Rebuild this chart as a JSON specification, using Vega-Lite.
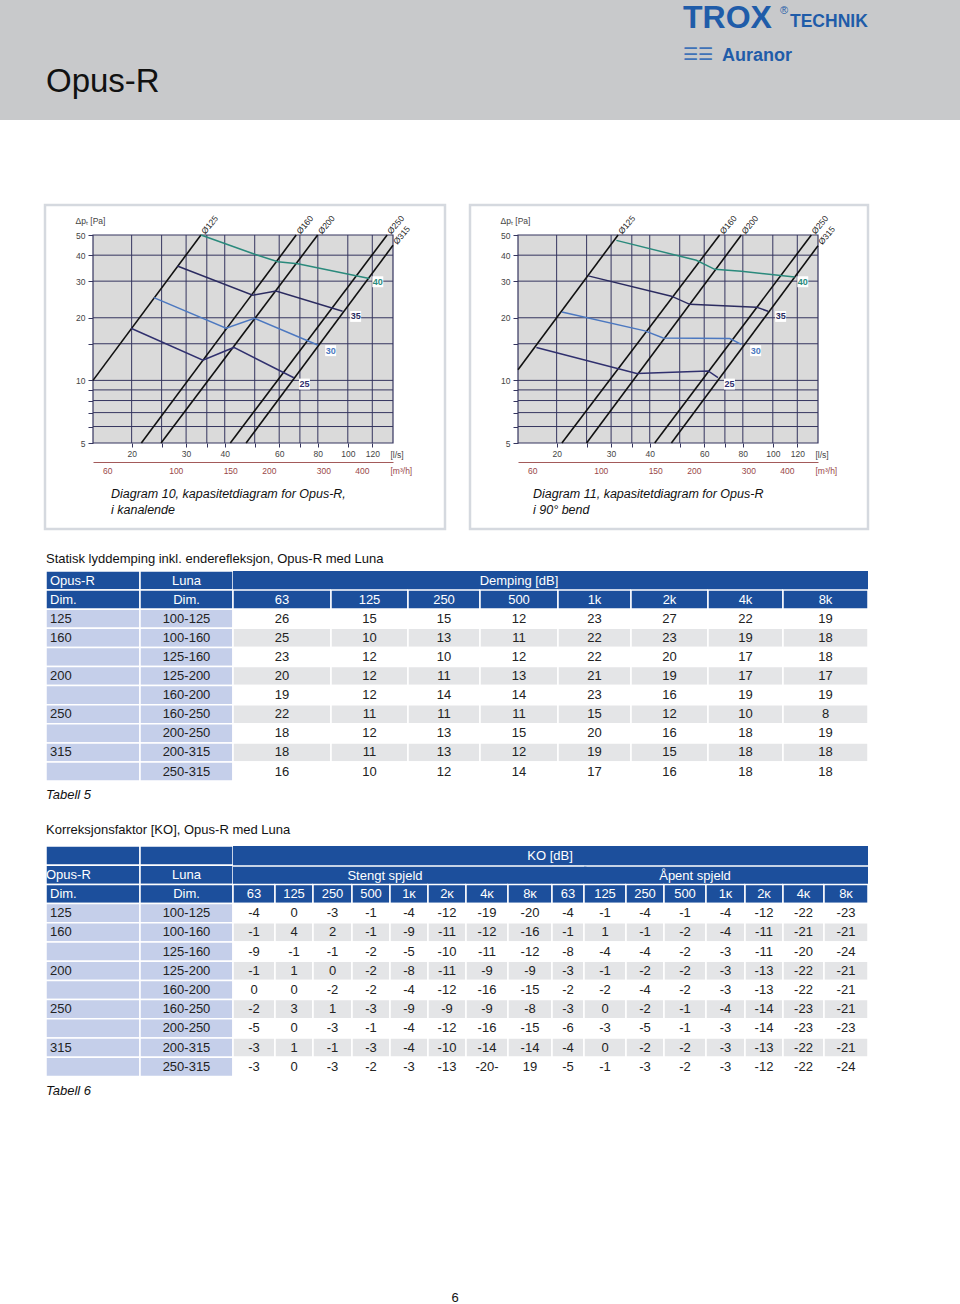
{
"$schema":"https://vega.github.io/schema/vega-lite/v6.json",
"padding":0,
"background":"#ffffff",
"spacing":0,
"config":{"view":{"stroke":null},"font":"Liberation Sans","concat":{"spacing":0}},
"datasets":{
"t5":[
{"opus":"125","luna":"100-125","63":26,"125":15,"250":15,"500":12,"1k":23,"2k":27,"4k":22,"8k":19},
{"opus":"160","luna":"100-160","63":25,"125":10,"250":13,"500":11,"1k":22,"2k":23,"4k":19,"8k":18},
{"opus":"","luna":"125-160","63":23,"125":12,"250":10,"500":12,"1k":22,"2k":20,"4k":17,"8k":18},
{"opus":"200","luna":"125-200","63":20,"125":12,"250":11,"500":13,"1k":21,"2k":19,"4k":17,"8k":17},
{"opus":"","luna":"160-200","63":19,"125":12,"250":14,"500":14,"1k":23,"2k":16,"4k":19,"8k":19},
{"opus":"250","luna":"160-250","63":22,"125":11,"250":11,"500":11,"1k":15,"2k":12,"4k":10,"8k":8},
{"opus":"","luna":"200-250","63":18,"125":12,"250":13,"500":15,"1k":20,"2k":16,"4k":18,"8k":19},
{"opus":"315","luna":"200-315","63":18,"125":11,"250":13,"500":12,"1k":19,"2k":15,"4k":18,"8k":18},
{"opus":"","luna":"250-315","63":16,"125":10,"250":12,"500":14,"1k":17,"2k":16,"4k":18,"8k":18}
],
"t6":[
{"opus":"125","luna":"100-125","s63":-4,"s125":0,"s250":-3,"s500":-1,"s1k":-4,"s2k":-12,"s4k":-19,"s8k":-20,"a63":-4,"a125":-1,"a250":-4,"a500":-1,"a1k":-4,"a2k":-12,"a4k":-22,"a8k":-23},
{"opus":"160","luna":"100-160","s63":-1,"s125":4,"s250":2,"s500":-1,"s1k":-9,"s2k":-11,"s4k":-12,"s8k":-16,"a63":-1,"a125":1,"a250":-1,"a500":-2,"a1k":-4,"a2k":-11,"a4k":-21,"a8k":-21},
{"opus":"","luna":"125-160","s63":-9,"s125":-1,"s250":-1,"s500":-2,"s1k":-5,"s2k":-10,"s4k":-11,"s8k":-12,"a63":-8,"a125":-4,"a250":-4,"a500":-2,"a1k":-3,"a2k":-11,"a4k":-20,"a8k":-24},
{"opus":"200","luna":"125-200","s63":-1,"s125":1,"s250":0,"s500":-2,"s1k":-8,"s2k":-11,"s4k":-9,"s8k":-9,"a63":-3,"a125":-1,"a250":-2,"a500":-2,"a1k":-3,"a2k":-13,"a4k":-22,"a8k":-21},
{"opus":"","luna":"160-200","s63":0,"s125":0,"s250":-2,"s500":-2,"s1k":-4,"s2k":-12,"s4k":-16,"s8k":-15,"a63":-2,"a125":-2,"a250":-4,"a500":-2,"a1k":-3,"a2k":-13,"a4k":-22,"a8k":-21},
{"opus":"250","luna":"160-250","s63":-2,"s125":3,"s250":1,"s500":-3,"s1k":-9,"s2k":-9,"s4k":-9,"s8k":-8,"a63":-3,"a125":0,"a250":-2,"a500":-1,"a1k":-4,"a2k":-14,"a4k":-23,"a8k":-21},
{"opus":"","luna":"200-250","s63":-5,"s125":0,"s250":-3,"s500":-1,"s1k":-4,"s2k":-12,"s4k":-16,"s8k":-15,"a63":-6,"a125":-3,"a250":-5,"a500":-1,"a1k":-3,"a2k":-14,"a4k":-23,"a8k":-23},
{"opus":"315","luna":"200-315","s63":-3,"s125":1,"s250":-1,"s500":-3,"s1k":-4,"s2k":-10,"s4k":-14,"s8k":-14,"a63":-4,"a125":0,"a250":-2,"a500":-2,"a1k":-3,"a2k":-13,"a4k":-22,"a8k":-21},
{"opus":"","luna":"250-315","s63":-3,"s125":0,"s250":-3,"s500":-2,"s1k":-3,"s2k":-13,"s4k":"-20-","s8k":19,"a63":-5,"a125":-1,"a250":-3,"a500":-2,"a1k":-3,"a2k":-12,"a4k":-22,"a8k":-24}
],
"dims1":[{"dim":"Ø125","q":15,"p":10},{"dim":"Ø125","q":33.5,"p":50},{"dim":"Ø160","q":21.5,"p":5},{"dim":"Ø160","q":68.1,"p":50},{"dim":"Ø200","q":24.9,"p":5},{"dim":"Ø200","q":79.9,"p":50},{"dim":"Ø250","q":41.7,"p":5},{"dim":"Ø250","q":134,"p":50},{"dim":"Ø315","q":46.9,"p":5},{"dim":"Ø315","q":140,"p":44.6}],
"dims2":[{"dim":"Ø125","q":15,"p":11.25},{"dim":"Ø125","q":31.6,"p":50},{"dim":"Ø160","q":20.8,"p":5},{"dim":"Ø160","q":67.3,"p":50},{"dim":"Ø200","q":25,"p":5},{"dim":"Ø200","q":79.1,"p":50},{"dim":"Ø250","q":41.5,"p":5},{"dim":"Ø250","q":133.2,"p":50},{"dim":"Ø315","q":47,"p":5},{"dim":"Ø315","q":140,"p":44.4}],
"curves1":[{"level":"40","q":33.5,"p":50},{"level":"40","q":50,"p":40.4},{"level":"40","q":59.4,"p":37.2},{"level":"40","q":68.9,"p":36.4},{"level":"40","q":117.4,"p":30.9},
{"level":"35","q":28.1,"p":35.5},{"level":"35","q":49.3,"p":25.7},{"level":"35","q":58.6,"p":26.9},{"level":"35","q":96.2,"p":21.5},
{"level":"30","q":23.6,"p":25},{"level":"30","q":40.4,"p":17.8},{"level":"30","q":49.9,"p":19.9},{"level":"30","q":79.9,"p":14.8},
{"level":"25","q":19.9,"p":17.8},{"level":"25","q":34,"p":12.5},{"level":"25","q":42.8,"p":14.4},{"level":"25","q":66.9,"p":10.3}],
"curves2":[{"level":"40","q":31.2,"p":47.1},{"level":"40","q":56.6,"p":37.8},{"level":"40","q":64.9,"p":34.2},{"level":"40","q":79.1,"p":33.5},{"level":"40","q":117.6,"p":31.4},
{"level":"35","q":25.3,"p":31.8},{"level":"35","q":47,"p":25.4},{"level":"35","q":53.9,"p":23.2},{"level":"35","q":88.5,"p":22.5},{"level":"35","q":96.5,"p":21.5},
{"level":"30","q":20.8,"p":21.3},{"level":"30","q":38.6,"p":17.3},{"level":"30","q":44.2,"p":16},{"level":"30","q":72.6,"p":15.9},{"level":"30","q":79.1,"p":14.9},
{"level":"25","q":17.2,"p":14.4},{"level":"25","q":36.3,"p":10.8},{"level":"25","q":61.8,"p":11.1},{"level":"25","q":66.5,"p":10.3}],
"levels":[{"level":"40","q":125,"p":29.8},{"level":"35","q":106,"p":20.3},{"level":"30","q":88,"p":13.9},{"level":"25","q":72.4,"p":9.6}],
"gx":[{"q":20},{"q":25},{"q":30},{"q":35},{"q":40},{"q":50},{"q":60},{"q":70},{"q":80},{"q":100},{"q":120}],
"gy":[{"p":6},{"p":7},{"p":8},{"p":9},{"p":10},{"p":15},{"p":20},{"p":30},{"p":40}]
},
"vconcat":[
{"width":960,"height":120,"view":{"fill":"#c8c9cb","stroke":null},"data":{"values":[{}]},
 "layer":[
  {"mark":{"type":"text","text":"Opus-R","align":"left","baseline":"alphabetic","dx":-434,"dy":32,"fontSize":33,"color":"#111111"}},
  {"mark":{"type":"text","text":"TROX","align":"left","baseline":"alphabetic","dx":203,"dy":-32,"fontSize":32,"fontWeight":"bold","color":"#1f5ca9"}},
  {"mark":{"type":"text","text":"®","align":"left","baseline":"alphabetic","dx":300,"dy":-46,"fontSize":11,"color":"#1f5ca9"}},
  {"mark":{"type":"text","text":"TECHNIK","align":"left","baseline":"alphabetic","dx":310,"dy":-33,"fontSize":17.5,"fontWeight":"bold","color":"#1f5ca9"}},
  {"mark":{"type":"text","text":"☰☰","align":"left","baseline":"alphabetic","dx":203,"dy":0,"fontSize":17,"color":"#3f72b8"}},
  {"mark":{"type":"text","text":"Auranor","align":"left","baseline":"alphabetic","dx":242,"dy":1,"fontSize":18,"fontWeight":"bold","color":"#1f5ca9"}}
 ]},
{"width":10,"height":82.75,"data":{"values":[{}]},"mark":{"type":"text","text":""}},
{"hconcat":[
 {"width":45,"height":324,"data":{"values":[{}]},"mark":{"type":"text","text":""}},
 {"width":400,"height":324,
  "view":{"stroke":"#d5d9df","strokeWidth":2.5,"fill":"#ffffff"},
  "title":{"text":["Diagram 10, kapasitetdiagram for Opus-R,","i kanalende"],"orient":"bottom","frame":"group","anchor":"start","align":"left","baseline":"top","offset":-41,"dx":66,"fontSize":12.5,"fontStyle":"italic","fontWeight":"normal","lineHeight":16,"color":"#111111"},
  "resolve":{"scale":{"x":"independent"},"axis":{"x":"independent"}},
  "layer":[
   {"layer":[
    {"data":{"values":[{}]},"mark":{"type":"rect","fill":"#dadada","stroke":"#35355f","strokeWidth":1.2},"encoding":{
     "x":{"datum":15,"type":"quantitative","scale":{"type":"log","domain":[15,140],"range":[48,348],"nice":false}},
     "x2":{"datum":140},
     "y":{"datum":5,"type":"quantitative","scale":{"type":"log","domain":[5,50],"range":[238,30],"nice":false}},
     "y2":{"datum":50}}},
    {"data":{"name":"gx"},"mark":{"type":"rule","color":"#35355f","strokeWidth":1},"encoding":{"x":{"field":"q","type":"quantitative","scale":{"type":"log","domain":[15,140],"range":[48,348],"nice":false},"axis":{"orient":"bottom","offset":-86,"values":[20,25,30,35,40,50,60,70,80,100,120],"labelExpr":"indexof([20,30,40,60,80,100,120], datum.value) >= 0 ? format(datum.value, 'd') : ''","labelOverlap":false,"domain":false,"grid":false,"ticks":true,"tickSize":4,"tickColor":"#35355f","labelPadding":2,"labelFontSize":8.5,"labelColor":"#444444","title":"[l/s]","titleX":345,"titleY":11,"titleAlign":"left","titleBaseline":"middle","titleFontSize":8.5,"titleFontWeight":"normal","titleColor":"#444444"}},"y":{"datum":5,"type":"quantitative","scale":{"type":"log","domain":[5,50],"range":[238,30],"nice":false}},"y2":{"datum":50}}},
    {"data":{"name":"gy"},"mark":{"type":"rule","color":"#35355f","strokeWidth":1},"encoding":{"y":{"field":"p","type":"quantitative","scale":{"type":"log","domain":[5,50],"range":[238,30],"nice":false},"axis":{"orient":"left","offset":-48,"values":[5,6,7,8,9,10,15,20,30,40,50],"labelExpr":"indexof([5,10,20,30,40,50], datum.value) >= 0 ? format(datum.value, 'd') : ''","labelOverlap":false,"domain":false,"grid":false,"tickSize":5,"tickColor":"#35355f","labelPadding":3,"labelFontSize":8.5,"labelColor":"#444444","title":"Δpₜ [Pa]","titleAngle":0,"titleX":-18,"titleY":15,"titleAlign":"left","titleBaseline":"middle","titleFontSize":8.5,"titleFontWeight":"normal","titleColor":"#444444"}},"x":{"datum":15,"type":"quantitative","scale":{"type":"log","domain":[15,140],"range":[48,348],"nice":false}},"x2":{"datum":140}}},
    {"data":{"name":"dims1"},"mark":{"type":"line","color":"#111111","strokeWidth":1.6},"encoding":{"x":{"field":"q","type":"quantitative","scale":{"type":"log","domain":[15,140],"range":[48,348],"nice":false}},"y":{"field":"p","type":"quantitative","scale":{"type":"log","domain":[5,50],"range":[238,30],"nice":false}},"detail":{"field":"dim","type":"nominal"}}},
    {"data":{"name":"curves1"},"mark":{"type":"line","strokeWidth":1.5},"encoding":{"x":{"field":"q","type":"quantitative","scale":{"type":"log","domain":[15,140],"range":[48,348],"nice":false}},"y":{"field":"p","type":"quantitative","scale":{"type":"log","domain":[5,50],"range":[238,30],"nice":false}},"color":{"field":"level","type":"nominal","scale":{"domain":["25","30","35","40"],"range":["#30306e","#4c78c0","#2b2b60","#2a8a7c"]},"legend":null}}},
    {"data":{"name":"levels"},"mark":{"type":"point","shape":"square","filled":true,"color":"#ffffff","opacity":1,"size":120},"encoding":{"x":{"field":"q","type":"quantitative","scale":{"type":"log","domain":[15,140],"range":[48,348],"nice":false}},"y":{"field":"p","type":"quantitative","scale":{"type":"log","domain":[5,50],"range":[238,30],"nice":false}}}},
    {"data":{"name":"levels"},"mark":{"type":"text","fontSize":9,"fontWeight":"bold"},"encoding":{"x":{"field":"q","type":"quantitative","scale":{"type":"log","domain":[15,140],"range":[48,348],"nice":false}},"y":{"field":"p","type":"quantitative","scale":{"type":"log","domain":[5,50],"range":[238,30],"nice":false}},"text":{"field":"level","type":"nominal"},"color":{"field":"level","type":"nominal","scale":{"domain":["25","30","35","40"],"range":["#30306e","#4c78c0","#2b2b60","#2a8a7c"]},"legend":null}}},
    {"data":{"name":"dims1"},"transform":[{"filter":"datum.p > 40"}],"mark":{"type":"text","angle":-50,"align":"left","baseline":"middle","dx":3,"fontSize":8.5,"color":"#222222"},"encoding":{"x":{"field":"q","type":"quantitative","scale":{"type":"log","domain":[15,140],"range":[48,348],"nice":false}},"y":{"field":"p","type":"quantitative","scale":{"type":"log","domain":[5,50],"range":[238,30],"nice":false}},"text":{"field":"dim","type":"nominal"}}}
   ]},
   {"data":{"values":[{"m":60},{"m":400}]},"mark":{"type":"point","opacity":0},"encoding":{"x":{"field":"m","type":"quantitative","scale":{"type":"log","domain":[54,504],"range":[48,348],"nice":false},"axis":{"orient":"bottom","offset":-67,"values":[60,100,150,200,300,400],"labelExpr":"format(datum.value, 'd')","labelOverlap":false,"domain":true,"domainColor":"#a35a5a","domainWidth":1,"ticks":false,"grid":false,"labelPadding":4,"labelFontSize":8.5,"labelColor":"#9a4848","title":"[m³/h]","titleX":345,"titleY":8,"titleAlign":"left","titleBaseline":"middle","titleFontSize":8.5,"titleFontWeight":"normal","titleColor":"#9a4848"}}}}
  ]},
 {"width":25,"height":324,"data":{"values":[{}]},"mark":{"type":"text","text":""}},
 {"width":398,"height":324,
  "view":{"stroke":"#d5d9df","strokeWidth":2.5,"fill":"#ffffff"},
  "title":{"text":["Diagram 11, kapasitetdiagram for Opus-R","i 90° bend"],"orient":"bottom","frame":"group","anchor":"start","align":"left","baseline":"top","offset":-41,"dx":63,"fontSize":12.5,"fontStyle":"italic","fontWeight":"normal","lineHeight":16,"color":"#111111"},
  "resolve":{"scale":{"x":"independent"},"axis":{"x":"independent"}},
  "layer":[
   {"layer":[
    {"data":{"values":[{}]},"mark":{"type":"rect","fill":"#dadada","stroke":"#35355f","strokeWidth":1.2},"encoding":{
     "x":{"datum":15,"type":"quantitative","scale":{"type":"log","domain":[15,140],"range":[48,348],"nice":false}},
     "x2":{"datum":140},
     "y":{"datum":5,"type":"quantitative","scale":{"type":"log","domain":[5,50],"range":[238,30],"nice":false}},
     "y2":{"datum":50}}},
    {"data":{"name":"gx"},"mark":{"type":"rule","color":"#35355f","strokeWidth":1},"encoding":{"x":{"field":"q","type":"quantitative","scale":{"type":"log","domain":[15,140],"range":[48,348],"nice":false},"axis":{"orient":"bottom","offset":-86,"values":[20,25,30,35,40,50,60,70,80,100,120],"labelExpr":"indexof([20,30,40,60,80,100,120], datum.value) >= 0 ? format(datum.value, 'd') : ''","labelOverlap":false,"domain":false,"grid":false,"ticks":true,"tickSize":4,"tickColor":"#35355f","labelPadding":2,"labelFontSize":8.5,"labelColor":"#444444","title":"[l/s]","titleX":345,"titleY":11,"titleAlign":"left","titleBaseline":"middle","titleFontSize":8.5,"titleFontWeight":"normal","titleColor":"#444444"}},"y":{"datum":5,"type":"quantitative","scale":{"type":"log","domain":[5,50],"range":[238,30],"nice":false}},"y2":{"datum":50}}},
    {"data":{"name":"gy"},"mark":{"type":"rule","color":"#35355f","strokeWidth":1},"encoding":{"y":{"field":"p","type":"quantitative","scale":{"type":"log","domain":[5,50],"range":[238,30],"nice":false},"axis":{"orient":"left","offset":-48,"values":[5,6,7,8,9,10,15,20,30,40,50],"labelExpr":"indexof([5,10,20,30,40,50], datum.value) >= 0 ? format(datum.value, 'd') : ''","labelOverlap":false,"domain":false,"grid":false,"tickSize":5,"tickColor":"#35355f","labelPadding":3,"labelFontSize":8.5,"labelColor":"#444444","title":"Δpₜ [Pa]","titleAngle":0,"titleX":-18,"titleY":15,"titleAlign":"left","titleBaseline":"middle","titleFontSize":8.5,"titleFontWeight":"normal","titleColor":"#444444"}},"x":{"datum":15,"type":"quantitative","scale":{"type":"log","domain":[15,140],"range":[48,348],"nice":false}},"x2":{"datum":140}}},
    {"data":{"name":"dims2"},"mark":{"type":"line","color":"#111111","strokeWidth":1.6},"encoding":{"x":{"field":"q","type":"quantitative","scale":{"type":"log","domain":[15,140],"range":[48,348],"nice":false}},"y":{"field":"p","type":"quantitative","scale":{"type":"log","domain":[5,50],"range":[238,30],"nice":false}},"detail":{"field":"dim","type":"nominal"}}},
    {"data":{"name":"curves2"},"mark":{"type":"line","strokeWidth":1.5},"encoding":{"x":{"field":"q","type":"quantitative","scale":{"type":"log","domain":[15,140],"range":[48,348],"nice":false}},"y":{"field":"p","type":"quantitative","scale":{"type":"log","domain":[5,50],"range":[238,30],"nice":false}},"color":{"field":"level","type":"nominal","scale":{"domain":["25","30","35","40"],"range":["#30306e","#4c78c0","#2b2b60","#2a8a7c"]},"legend":null}}},
    {"data":{"name":"levels"},"mark":{"type":"point","shape":"square","filled":true,"color":"#ffffff","opacity":1,"size":120},"encoding":{"x":{"field":"q","type":"quantitative","scale":{"type":"log","domain":[15,140],"range":[48,348],"nice":false}},"y":{"field":"p","type":"quantitative","scale":{"type":"log","domain":[5,50],"range":[238,30],"nice":false}}}},
    {"data":{"name":"levels"},"mark":{"type":"text","fontSize":9,"fontWeight":"bold"},"encoding":{"x":{"field":"q","type":"quantitative","scale":{"type":"log","domain":[15,140],"range":[48,348],"nice":false}},"y":{"field":"p","type":"quantitative","scale":{"type":"log","domain":[5,50],"range":[238,30],"nice":false}},"text":{"field":"level","type":"nominal"},"color":{"field":"level","type":"nominal","scale":{"domain":["25","30","35","40"],"range":["#30306e","#4c78c0","#2b2b60","#2a8a7c"]},"legend":null}}},
    {"data":{"name":"dims2"},"transform":[{"filter":"datum.p > 40"}],"mark":{"type":"text","angle":-50,"align":"left","baseline":"middle","dx":3,"fontSize":8.5,"color":"#222222"},"encoding":{"x":{"field":"q","type":"quantitative","scale":{"type":"log","domain":[15,140],"range":[48,348],"nice":false}},"y":{"field":"p","type":"quantitative","scale":{"type":"log","domain":[5,50],"range":[238,30],"nice":false}},"text":{"field":"dim","type":"nominal"}}}
   ]},
   {"data":{"values":[{"m":60},{"m":400}]},"mark":{"type":"point","opacity":0},"encoding":{"x":{"field":"m","type":"quantitative","scale":{"type":"log","domain":[54,504],"range":[48,348],"nice":false},"axis":{"orient":"bottom","offset":-67,"values":[60,100,150,200,300,400],"labelExpr":"format(datum.value, 'd')","labelOverlap":false,"domain":true,"domainColor":"#a35a5a","domainWidth":1,"ticks":false,"grid":false,"labelPadding":4,"labelFontSize":8.5,"labelColor":"#9a4848","title":"[m³/h]","titleX":345,"titleY":8,"titleAlign":"left","titleBaseline":"middle","titleFontSize":8.5,"titleFontWeight":"normal","titleColor":"#9a4848"}}}}
  ]}
],"spacing":0,"bounds":"flush"},
{"width":960,"height":38.25,"data":{"values":[{}]},"mark":{"type":"text","text":"Statisk lyddemping inkl. enderefleksjon, Opus-R med Luna","align":"left","dx":-434,"dy":9.15,"fontSize":13,"color":"#111111"}},
{"hconcat":[
 {"width":46,"height":210.1,"data":{"values":[{}]},"mark":{"type":"text","text":""}},
 {"width":94,"height":210.1,"layer":[
  {"data":{"values":[{"row":"h1","label":"Opus-R"},{"row":"h2","label":"Dim."}]},"layer":[
   {"mark":{"type":"rect","fill":"#1c4f9c","stroke":"#ffffff","strokeWidth":1.5},"encoding":{"y":{"field":"row","type":"nominal","scale":{"type":"band","domain":["h1","h2","100-125","100-160","125-160","125-200","160-200","160-250","200-250","200-315","250-315"],"paddingInner":0,"paddingOuter":0},"axis":null}}},
   {"mark":{"type":"text","align":"left","dx":-43,"fontSize":13,"color":"#ffffff"},"encoding":{"y":{"field":"row","type":"nominal","scale":{"type":"band","domain":["h1","h2","100-125","100-160","125-160","125-200","160-200","160-250","200-250","200-315","250-315"],"paddingInner":0,"paddingOuter":0},"axis":null},"text":{"field":"label","type":"nominal"}}}]},
  {"data":{"name":"t5"},"layer":[
   {"mark":{"type":"rect","fill":"#c5cfea","stroke":"#ffffff","strokeWidth":1.5},"encoding":{"y":{"field":"luna","type":"nominal","scale":{"type":"band","domain":["h1","h2","100-125","100-160","125-160","125-200","160-200","160-250","200-250","200-315","250-315"],"paddingInner":0,"paddingOuter":0},"axis":null}}},
   {"mark":{"type":"text","align":"left","dx":-43,"fontSize":13,"color":"#222222"},"encoding":{"y":{"field":"luna","type":"nominal","scale":{"type":"band","domain":["h1","h2","100-125","100-160","125-160","125-200","160-200","160-250","200-250","200-315","250-315"],"paddingInner":0,"paddingOuter":0},"axis":null},"text":{"field":"opus","type":"nominal"}}}]}
 ]},
 {"width":93,"height":210.1,"layer":[
  {"data":{"values":[{"row":"h1","label":"Luna"},{"row":"h2","label":"Dim."}]},"layer":[
   {"mark":{"type":"rect","fill":"#1c4f9c","stroke":"#ffffff","strokeWidth":1.5},"encoding":{"y":{"field":"row","type":"nominal","scale":{"type":"band","domain":["h1","h2","100-125","100-160","125-160","125-200","160-200","160-250","200-250","200-315","250-315"],"paddingInner":0,"paddingOuter":0},"axis":null}}},
   {"mark":{"type":"text","fontSize":13,"color":"#ffffff"},"encoding":{"y":{"field":"row","type":"nominal","scale":{"type":"band","domain":["h1","h2","100-125","100-160","125-160","125-200","160-200","160-250","200-250","200-315","250-315"],"paddingInner":0,"paddingOuter":0},"axis":null},"text":{"field":"label","type":"nominal"}}}]},
  {"data":{"name":"t5"},"layer":[
   {"mark":{"type":"rect","fill":"#c5cfea","stroke":"#ffffff","strokeWidth":1.5},"encoding":{"y":{"field":"luna","type":"nominal","scale":{"type":"band","domain":["h1","h2","100-125","100-160","125-160","125-200","160-200","160-250","200-250","200-315","250-315"],"paddingInner":0,"paddingOuter":0},"axis":null}}},
   {"mark":{"type":"text","fontSize":13,"color":"#222222"},"encoding":{"y":{"field":"luna","type":"nominal","scale":{"type":"band","domain":["h1","h2","100-125","100-160","125-160","125-200","160-200","160-250","200-250","200-315","250-315"],"paddingInner":0,"paddingOuter":0},"axis":null},"text":{"field":"luna","type":"nominal"}}}]}
 ]},
 {"width":98,"height":210.1,"layer":[
  {"data":{"values":[{"row":"h1"}]},"mark":{"type":"rect","fill":"#1c4f9c"},"encoding":{"y":{"field":"row","type":"nominal","scale":{"type":"band","domain":["h1","h2","100-125","100-160","125-160","125-200","160-200","160-250","200-250","200-315","250-315"],"paddingInner":0,"paddingOuter":0},"axis":null}}},
  {"data":{"values":[{"row":"h2","label":"63"}]},"layer":[
   {"mark":{"type":"rect","fill":"#1c4f9c","stroke":"#ffffff","strokeWidth":1.5},"encoding":{"y":{"field":"row","type":"nominal","scale":{"type":"band","domain":["h1","h2","100-125","100-160","125-160","125-200","160-200","160-250","200-250","200-315","250-315"],"paddingInner":0,"paddingOuter":0},"axis":null}}},
   {"mark":{"type":"text","fontSize":13,"color":"#ffffff"},"encoding":{"y":{"field":"row","type":"nominal","scale":{"type":"band","domain":["h1","h2","100-125","100-160","125-160","125-200","160-200","160-250","200-250","200-315","250-315"],"paddingInner":0,"paddingOuter":0},"axis":null},"text":{"field":"label","type":"nominal"}}}]},
  {"data":{"name":"t5"},"transform":[{"window":[{"op":"row_number","as":"rn"}]}],"layer":[
   {"mark":{"type":"rect","stroke":"#ffffff","strokeWidth":1.5},"encoding":{"y":{"field":"luna","type":"nominal","scale":{"type":"band","domain":["h1","h2","100-125","100-160","125-160","125-200","160-200","160-250","200-250","200-315","250-315"],"paddingInner":0,"paddingOuter":0},"axis":null},"fill":{"condition":{"test":"datum.rn % 2 == 0","value":"#e4e5e7"},"value":"#ffffff"}}},
   {"mark":{"type":"text","fontSize":13,"color":"#222222"},"encoding":{"y":{"field":"luna","type":"nominal","scale":{"type":"band","domain":["h1","h2","100-125","100-160","125-160","125-200","160-200","160-250","200-250","200-315","250-315"],"paddingInner":0,"paddingOuter":0},"axis":null},"text":{"field":"63","type":"nominal"}}}]}
 ]},
 {"width":77,"height":210.1,"layer":[
  {"data":{"values":[{"row":"h1"}]},"mark":{"type":"rect","fill":"#1c4f9c"},"encoding":{"y":{"field":"row","type":"nominal","scale":{"type":"band","domain":["h1","h2","100-125","100-160","125-160","125-200","160-200","160-250","200-250","200-315","250-315"],"paddingInner":0,"paddingOuter":0},"axis":null}}},
  {"data":{"values":[{"row":"h2","label":"125"}]},"layer":[
   {"mark":{"type":"rect","fill":"#1c4f9c","stroke":"#ffffff","strokeWidth":1.5},"encoding":{"y":{"field":"row","type":"nominal","scale":{"type":"band","domain":["h1","h2","100-125","100-160","125-160","125-200","160-200","160-250","200-250","200-315","250-315"],"paddingInner":0,"paddingOuter":0},"axis":null}}},
   {"mark":{"type":"text","fontSize":13,"color":"#ffffff"},"encoding":{"y":{"field":"row","type":"nominal","scale":{"type":"band","domain":["h1","h2","100-125","100-160","125-160","125-200","160-200","160-250","200-250","200-315","250-315"],"paddingInner":0,"paddingOuter":0},"axis":null},"text":{"field":"label","type":"nominal"}}}]},
  {"data":{"name":"t5"},"transform":[{"window":[{"op":"row_number","as":"rn"}]}],"layer":[
   {"mark":{"type":"rect","stroke":"#ffffff","strokeWidth":1.5},"encoding":{"y":{"field":"luna","type":"nominal","scale":{"type":"band","domain":["h1","h2","100-125","100-160","125-160","125-200","160-200","160-250","200-250","200-315","250-315"],"paddingInner":0,"paddingOuter":0},"axis":null},"fill":{"condition":{"test":"datum.rn % 2 == 0","value":"#e4e5e7"},"value":"#ffffff"}}},
   {"mark":{"type":"text","fontSize":13,"color":"#222222"},"encoding":{"y":{"field":"luna","type":"nominal","scale":{"type":"band","domain":["h1","h2","100-125","100-160","125-160","125-200","160-200","160-250","200-250","200-315","250-315"],"paddingInner":0,"paddingOuter":0},"axis":null},"text":{"field":"125","type":"nominal"}}}]}
 ]},
 {"width":72,"height":210.1,"layer":[
  {"data":{"values":[{"row":"h1"}]},"mark":{"type":"rect","fill":"#1c4f9c"},"encoding":{"y":{"field":"row","type":"nominal","scale":{"type":"band","domain":["h1","h2","100-125","100-160","125-160","125-200","160-200","160-250","200-250","200-315","250-315"],"paddingInner":0,"paddingOuter":0},"axis":null}}},
  {"data":{"values":[{"row":"h2","label":"250"}]},"layer":[
   {"mark":{"type":"rect","fill":"#1c4f9c","stroke":"#ffffff","strokeWidth":1.5},"encoding":{"y":{"field":"row","type":"nominal","scale":{"type":"band","domain":["h1","h2","100-125","100-160","125-160","125-200","160-200","160-250","200-250","200-315","250-315"],"paddingInner":0,"paddingOuter":0},"axis":null}}},
   {"mark":{"type":"text","fontSize":13,"color":"#ffffff"},"encoding":{"y":{"field":"row","type":"nominal","scale":{"type":"band","domain":["h1","h2","100-125","100-160","125-160","125-200","160-200","160-250","200-250","200-315","250-315"],"paddingInner":0,"paddingOuter":0},"axis":null},"text":{"field":"label","type":"nominal"}}}]},
  {"data":{"name":"t5"},"transform":[{"window":[{"op":"row_number","as":"rn"}]}],"layer":[
   {"mark":{"type":"rect","stroke":"#ffffff","strokeWidth":1.5},"encoding":{"y":{"field":"luna","type":"nominal","scale":{"type":"band","domain":["h1","h2","100-125","100-160","125-160","125-200","160-200","160-250","200-250","200-315","250-315"],"paddingInner":0,"paddingOuter":0},"axis":null},"fill":{"condition":{"test":"datum.rn % 2 == 0","value":"#e4e5e7"},"value":"#ffffff"}}},
   {"mark":{"type":"text","fontSize":13,"color":"#222222"},"encoding":{"y":{"field":"luna","type":"nominal","scale":{"type":"band","domain":["h1","h2","100-125","100-160","125-160","125-200","160-200","160-250","200-250","200-315","250-315"],"paddingInner":0,"paddingOuter":0},"axis":null},"text":{"field":"250","type":"nominal"}}}]}
 ]},
 {"width":78,"height":210.1,"layer":[
  {"data":{"values":[{"row":"h1"}]},"mark":{"type":"rect","fill":"#1c4f9c"},"encoding":{"y":{"field":"row","type":"nominal","scale":{"type":"band","domain":["h1","h2","100-125","100-160","125-160","125-200","160-200","160-250","200-250","200-315","250-315"],"paddingInner":0,"paddingOuter":0},"axis":null}}},
  {"data":{"values":[{"row":"h2","label":"500"}]},"layer":[
   {"mark":{"type":"rect","fill":"#1c4f9c","stroke":"#ffffff","strokeWidth":1.5},"encoding":{"y":{"field":"row","type":"nominal","scale":{"type":"band","domain":["h1","h2","100-125","100-160","125-160","125-200","160-200","160-250","200-250","200-315","250-315"],"paddingInner":0,"paddingOuter":0},"axis":null}}},
   {"mark":{"type":"text","fontSize":13,"color":"#ffffff"},"encoding":{"y":{"field":"row","type":"nominal","scale":{"type":"band","domain":["h1","h2","100-125","100-160","125-160","125-200","160-200","160-250","200-250","200-315","250-315"],"paddingInner":0,"paddingOuter":0},"axis":null},"text":{"field":"label","type":"nominal"}}}]},
  {"data":{"name":"t5"},"transform":[{"window":[{"op":"row_number","as":"rn"}]}],"layer":[
   {"mark":{"type":"rect","stroke":"#ffffff","strokeWidth":1.5},"encoding":{"y":{"field":"luna","type":"nominal","scale":{"type":"band","domain":["h1","h2","100-125","100-160","125-160","125-200","160-200","160-250","200-250","200-315","250-315"],"paddingInner":0,"paddingOuter":0},"axis":null},"fill":{"condition":{"test":"datum.rn % 2 == 0","value":"#e4e5e7"},"value":"#ffffff"}}},
   {"mark":{"type":"text","fontSize":13,"color":"#222222"},"encoding":{"y":{"field":"luna","type":"nominal","scale":{"type":"band","domain":["h1","h2","100-125","100-160","125-160","125-200","160-200","160-250","200-250","200-315","250-315"],"paddingInner":0,"paddingOuter":0},"axis":null},"text":{"field":"500","type":"nominal"}}}]}
 ]},
 {"width":73,"height":210.1,"layer":[
  {"data":{"values":[{"row":"h1"}]},"mark":{"type":"rect","fill":"#1c4f9c"},"encoding":{"y":{"field":"row","type":"nominal","scale":{"type":"band","domain":["h1","h2","100-125","100-160","125-160","125-200","160-200","160-250","200-250","200-315","250-315"],"paddingInner":0,"paddingOuter":0},"axis":null}}},
  {"data":{"values":[{"row":"h2","label":"1k"}]},"layer":[
   {"mark":{"type":"rect","fill":"#1c4f9c","stroke":"#ffffff","strokeWidth":1.5},"encoding":{"y":{"field":"row","type":"nominal","scale":{"type":"band","domain":["h1","h2","100-125","100-160","125-160","125-200","160-200","160-250","200-250","200-315","250-315"],"paddingInner":0,"paddingOuter":0},"axis":null}}},
   {"mark":{"type":"text","fontSize":13,"color":"#ffffff"},"encoding":{"y":{"field":"row","type":"nominal","scale":{"type":"band","domain":["h1","h2","100-125","100-160","125-160","125-200","160-200","160-250","200-250","200-315","250-315"],"paddingInner":0,"paddingOuter":0},"axis":null},"text":{"field":"label","type":"nominal"}}}]},
  {"data":{"name":"t5"},"transform":[{"window":[{"op":"row_number","as":"rn"}]}],"layer":[
   {"mark":{"type":"rect","stroke":"#ffffff","strokeWidth":1.5},"encoding":{"y":{"field":"luna","type":"nominal","scale":{"type":"band","domain":["h1","h2","100-125","100-160","125-160","125-200","160-200","160-250","200-250","200-315","250-315"],"paddingInner":0,"paddingOuter":0},"axis":null},"fill":{"condition":{"test":"datum.rn % 2 == 0","value":"#e4e5e7"},"value":"#ffffff"}}},
   {"mark":{"type":"text","fontSize":13,"color":"#222222"},"encoding":{"y":{"field":"luna","type":"nominal","scale":{"type":"band","domain":["h1","h2","100-125","100-160","125-160","125-200","160-200","160-250","200-250","200-315","250-315"],"paddingInner":0,"paddingOuter":0},"axis":null},"text":{"field":"1k","type":"nominal"}}}]}
 ]},
 {"width":77,"height":210.1,"layer":[
  {"data":{"values":[{"row":"h1"}]},"mark":{"type":"rect","fill":"#1c4f9c"},"encoding":{"y":{"field":"row","type":"nominal","scale":{"type":"band","domain":["h1","h2","100-125","100-160","125-160","125-200","160-200","160-250","200-250","200-315","250-315"],"paddingInner":0,"paddingOuter":0},"axis":null}}},
  {"data":{"values":[{"row":"h2","label":"2k"}]},"layer":[
   {"mark":{"type":"rect","fill":"#1c4f9c","stroke":"#ffffff","strokeWidth":1.5},"encoding":{"y":{"field":"row","type":"nominal","scale":{"type":"band","domain":["h1","h2","100-125","100-160","125-160","125-200","160-200","160-250","200-250","200-315","250-315"],"paddingInner":0,"paddingOuter":0},"axis":null}}},
   {"mark":{"type":"text","fontSize":13,"color":"#ffffff"},"encoding":{"y":{"field":"row","type":"nominal","scale":{"type":"band","domain":["h1","h2","100-125","100-160","125-160","125-200","160-200","160-250","200-250","200-315","250-315"],"paddingInner":0,"paddingOuter":0},"axis":null},"text":{"field":"label","type":"nominal"}}}]},
  {"data":{"name":"t5"},"transform":[{"window":[{"op":"row_number","as":"rn"}]}],"layer":[
   {"mark":{"type":"rect","stroke":"#ffffff","strokeWidth":1.5},"encoding":{"y":{"field":"luna","type":"nominal","scale":{"type":"band","domain":["h1","h2","100-125","100-160","125-160","125-200","160-200","160-250","200-250","200-315","250-315"],"paddingInner":0,"paddingOuter":0},"axis":null},"fill":{"condition":{"test":"datum.rn % 2 == 0","value":"#e4e5e7"},"value":"#ffffff"}}},
   {"mark":{"type":"text","fontSize":13,"color":"#222222"},"encoding":{"y":{"field":"luna","type":"nominal","scale":{"type":"band","domain":["h1","h2","100-125","100-160","125-160","125-200","160-200","160-250","200-250","200-315","250-315"],"paddingInner":0,"paddingOuter":0},"axis":null},"text":{"field":"2k","type":"nominal"}}}]}
 ]},
 {"width":75,"height":210.1,"layer":[
  {"data":{"values":[{"row":"h1"}]},"mark":{"type":"rect","fill":"#1c4f9c"},"encoding":{"y":{"field":"row","type":"nominal","scale":{"type":"band","domain":["h1","h2","100-125","100-160","125-160","125-200","160-200","160-250","200-250","200-315","250-315"],"paddingInner":0,"paddingOuter":0},"axis":null}}},
  {"data":{"values":[{"row":"h2","label":"4k"}]},"layer":[
   {"mark":{"type":"rect","fill":"#1c4f9c","stroke":"#ffffff","strokeWidth":1.5},"encoding":{"y":{"field":"row","type":"nominal","scale":{"type":"band","domain":["h1","h2","100-125","100-160","125-160","125-200","160-200","160-250","200-250","200-315","250-315"],"paddingInner":0,"paddingOuter":0},"axis":null}}},
   {"mark":{"type":"text","fontSize":13,"color":"#ffffff"},"encoding":{"y":{"field":"row","type":"nominal","scale":{"type":"band","domain":["h1","h2","100-125","100-160","125-160","125-200","160-200","160-250","200-250","200-315","250-315"],"paddingInner":0,"paddingOuter":0},"axis":null},"text":{"field":"label","type":"nominal"}}}]},
  {"data":{"name":"t5"},"transform":[{"window":[{"op":"row_number","as":"rn"}]}],"layer":[
   {"mark":{"type":"rect","stroke":"#ffffff","strokeWidth":1.5},"encoding":{"y":{"field":"luna","type":"nominal","scale":{"type":"band","domain":["h1","h2","100-125","100-160","125-160","125-200","160-200","160-250","200-250","200-315","250-315"],"paddingInner":0,"paddingOuter":0},"axis":null},"fill":{"condition":{"test":"datum.rn % 2 == 0","value":"#e4e5e7"},"value":"#ffffff"}}},
   {"mark":{"type":"text","fontSize":13,"color":"#222222"},"encoding":{"y":{"field":"luna","type":"nominal","scale":{"type":"band","domain":["h1","h2","100-125","100-160","125-160","125-200","160-200","160-250","200-250","200-315","250-315"],"paddingInner":0,"paddingOuter":0},"axis":null},"text":{"field":"4k","type":"nominal"}}}]}
 ]},
 {"width":85,"height":210.1,"layer":[
  {"data":{"values":[{"row":"h1","label":"Demping [dB]"}]},"layer":[
   {"mark":{"type":"rect","fill":"#1c4f9c"},"encoding":{"y":{"field":"row","type":"nominal","scale":{"type":"band","domain":["h1","h2","100-125","100-160","125-160","125-200","160-200","160-250","200-250","200-315","250-315"],"paddingInner":0,"paddingOuter":0},"axis":null}}},
   {"mark":{"type":"text","dx":-306.5,"fontSize":13,"color":"#ffffff"},"encoding":{"y":{"field":"row","type":"nominal","scale":{"type":"band","domain":["h1","h2","100-125","100-160","125-160","125-200","160-200","160-250","200-250","200-315","250-315"],"paddingInner":0,"paddingOuter":0},"axis":null},"text":{"field":"label","type":"nominal"}}}]},
  {"data":{"values":[{"row":"h2","label":"8k"}]},"layer":[
   {"mark":{"type":"rect","fill":"#1c4f9c","stroke":"#ffffff","strokeWidth":1.5},"encoding":{"y":{"field":"row","type":"nominal","scale":{"type":"band","domain":["h1","h2","100-125","100-160","125-160","125-200","160-200","160-250","200-250","200-315","250-315"],"paddingInner":0,"paddingOuter":0},"axis":null}}},
   {"mark":{"type":"text","fontSize":13,"color":"#ffffff"},"encoding":{"y":{"field":"row","type":"nominal","scale":{"type":"band","domain":["h1","h2","100-125","100-160","125-160","125-200","160-200","160-250","200-250","200-315","250-315"],"paddingInner":0,"paddingOuter":0},"axis":null},"text":{"field":"label","type":"nominal"}}}]},
  {"data":{"name":"t5"},"transform":[{"window":[{"op":"row_number","as":"rn"}]}],"layer":[
   {"mark":{"type":"rect","stroke":"#ffffff","strokeWidth":1.5},"encoding":{"y":{"field":"luna","type":"nominal","scale":{"type":"band","domain":["h1","h2","100-125","100-160","125-160","125-200","160-200","160-250","200-250","200-315","250-315"],"paddingInner":0,"paddingOuter":0},"axis":null},"fill":{"condition":{"test":"datum.rn % 2 == 0","value":"#e4e5e7"},"value":"#ffffff"}}},
   {"mark":{"type":"text","fontSize":13,"color":"#222222"},"encoding":{"y":{"field":"luna","type":"nominal","scale":{"type":"band","domain":["h1","h2","100-125","100-160","125-160","125-200","160-200","160-250","200-250","200-315","250-315"],"paddingInner":0,"paddingOuter":0},"axis":null},"text":{"field":"8k","type":"nominal"}}}]}
 ]}
],"spacing":0,"bounds":"flush"},
{"width":960,"height":30.4,"data":{"values":[{}]},"mark":{"type":"text","text":"Tabell 5","align":"left","dx":-434,"dy":-1.75,"fontSize":13,"fontStyle":"italic","color":"#111111"}},
{"width":960,"height":31.3,"data":{"values":[{}]},"mark":{"type":"text","text":"Korreksjonsfaktor [KO], Opus-R med Luna","align":"left","dx":-434,"dy":1,"fontSize":13,"color":"#111111"}},
{"hconcat":[
 {"width":46,"height":230.4,"data":{"values":[{}]},"mark":{"type":"text","text":""}},
 {"width":94,"height":230.4,"layer":[
  {"data":{"values":[{"row":"h1"},{"row":"h2"},{"row":"h3"}]},"mark":{"type":"rect","fill":"#1c4f9c","stroke":"#ffffff","strokeWidth":1.5},"encoding":{"y":{"field":"row","type":"nominal","scale":{"type":"band","domain":["h1","h2","h3","100-125","100-160","125-160","125-200","160-200","160-250","200-250","200-315","250-315"],"paddingInner":0,"paddingOuter":0},"axis":null}}},
  {"data":{"values":[{"row":"h2","label":"Opus-R"}]},"mark":{"type":"text","align":"left","dx":-47,"fontSize":13,"color":"#ffffff"},"encoding":{"y":{"field":"row","type":"nominal","scale":{"type":"band","domain":["h1","h2","h3","100-125","100-160","125-160","125-200","160-200","160-250","200-250","200-315","250-315"],"paddingInner":0,"paddingOuter":0},"axis":null},"text":{"field":"label","type":"nominal"}}},
  {"data":{"values":[{"row":"h3","label":"Dim."}]},"mark":{"type":"text","align":"left","dx":-43,"fontSize":13,"color":"#ffffff"},"encoding":{"y":{"field":"row","type":"nominal","scale":{"type":"band","domain":["h1","h2","h3","100-125","100-160","125-160","125-200","160-200","160-250","200-250","200-315","250-315"],"paddingInner":0,"paddingOuter":0},"axis":null},"text":{"field":"label","type":"nominal"}}},
  {"data":{"name":"t6"},"layer":[
   {"mark":{"type":"rect","fill":"#c5cfea","stroke":"#ffffff","strokeWidth":1.5},"encoding":{"y":{"field":"luna","type":"nominal","scale":{"type":"band","domain":["h1","h2","h3","100-125","100-160","125-160","125-200","160-200","160-250","200-250","200-315","250-315"],"paddingInner":0,"paddingOuter":0},"axis":null}}},
   {"mark":{"type":"text","align":"left","dx":-43,"fontSize":13,"color":"#222222"},"encoding":{"y":{"field":"luna","type":"nominal","scale":{"type":"band","domain":["h1","h2","h3","100-125","100-160","125-160","125-200","160-200","160-250","200-250","200-315","250-315"],"paddingInner":0,"paddingOuter":0},"axis":null},"text":{"field":"opus","type":"nominal"}}}]}
 ]},
 {"width":93,"height":230.4,"layer":[
  {"data":{"values":[{"row":"h1","label":""},{"row":"h2","label":"Luna"},{"row":"h3","label":"Dim."}]},"layer":[
   {"mark":{"type":"rect","fill":"#1c4f9c","stroke":"#ffffff","strokeWidth":1.5},"encoding":{"y":{"field":"row","type":"nominal","scale":{"type":"band","domain":["h1","h2","h3","100-125","100-160","125-160","125-200","160-200","160-250","200-250","200-315","250-315"],"paddingInner":0,"paddingOuter":0},"axis":null}}},
   {"mark":{"type":"text","fontSize":13,"color":"#ffffff"},"encoding":{"y":{"field":"row","type":"nominal","scale":{"type":"band","domain":["h1","h2","h3","100-125","100-160","125-160","125-200","160-200","160-250","200-250","200-315","250-315"],"paddingInner":0,"paddingOuter":0},"axis":null},"text":{"field":"label","type":"nominal"}}}]},
  {"data":{"name":"t6"},"layer":[
   {"mark":{"type":"rect","fill":"#c5cfea","stroke":"#ffffff","strokeWidth":1.5},"encoding":{"y":{"field":"luna","type":"nominal","scale":{"type":"band","domain":["h1","h2","h3","100-125","100-160","125-160","125-200","160-200","160-250","200-250","200-315","250-315"],"paddingInner":0,"paddingOuter":0},"axis":null}}},
   {"mark":{"type":"text","fontSize":13,"color":"#222222"},"encoding":{"y":{"field":"luna","type":"nominal","scale":{"type":"band","domain":["h1","h2","h3","100-125","100-160","125-160","125-200","160-200","160-250","200-250","200-315","250-315"],"paddingInner":0,"paddingOuter":0},"axis":null},"text":{"field":"luna","type":"nominal"}}}]}
 ]},
 {"hconcat":[
  {"width":42,"height":230.4,"layer":[
   {"data":{"values":[{"row":"h1"}]},"mark":{"type":"rect","fill":"#1c4f9c"},"encoding":{"y":{"field":"row","type":"nominal","scale":{"type":"band","domain":["h1","h2","h3","100-125","100-160","125-160","125-200","160-200","160-250","200-250","200-315","250-315"],"paddingInner":0,"paddingOuter":0},"axis":null}}},
   {"data":{"values":[{"row":"h2"}]},"mark":{"type":"rect","fill":"#1c4f9c","yOffset":1.5},"encoding":{"y":{"field":"row","type":"nominal","scale":{"type":"band","domain":["h1","h2","h3","100-125","100-160","125-160","125-200","160-200","160-250","200-250","200-315","250-315"],"paddingInner":0,"paddingOuter":0},"axis":null}}},
   {"data":{"values":[{"row":"h3","label":"63"}]},"layer":[
    {"mark":{"type":"rect","fill":"#1c4f9c","stroke":"#ffffff","strokeWidth":1.5},"encoding":{"y":{"field":"row","type":"nominal","scale":{"type":"band","domain":["h1","h2","h3","100-125","100-160","125-160","125-200","160-200","160-250","200-250","200-315","250-315"],"paddingInner":0,"paddingOuter":0},"axis":null}}},
    {"mark":{"type":"text","fontSize":13,"color":"#ffffff"},"encoding":{"y":{"field":"row","type":"nominal","scale":{"type":"band","domain":["h1","h2","h3","100-125","100-160","125-160","125-200","160-200","160-250","200-250","200-315","250-315"],"paddingInner":0,"paddingOuter":0},"axis":null},"text":{"field":"label","type":"nominal"}}}]},
   {"data":{"name":"t6"},"transform":[{"window":[{"op":"row_number","as":"rn"}]}],"layer":[
    {"mark":{"type":"rect","stroke":"#ffffff","strokeWidth":1.5},"encoding":{"y":{"field":"luna","type":"nominal","scale":{"type":"band","domain":["h1","h2","h3","100-125","100-160","125-160","125-200","160-200","160-250","200-250","200-315","250-315"],"paddingInner":0,"paddingOuter":0},"axis":null},"fill":{"condition":{"test":"datum.rn % 2 == 0","value":"#e4e5e7"},"value":"#ffffff"}}},
    {"mark":{"type":"text","fontSize":13,"color":"#222222"},"encoding":{"y":{"field":"luna","type":"nominal","scale":{"type":"band","domain":["h1","h2","h3","100-125","100-160","125-160","125-200","160-200","160-250","200-250","200-315","250-315"],"paddingInner":0,"paddingOuter":0},"axis":null},"text":{"field":"s63","type":"nominal"}}}]}
  ]},
  {"width":38,"height":230.4,"layer":[
   {"data":{"values":[{"row":"h1"}]},"mark":{"type":"rect","fill":"#1c4f9c"},"encoding":{"y":{"field":"row","type":"nominal","scale":{"type":"band","domain":["h1","h2","h3","100-125","100-160","125-160","125-200","160-200","160-250","200-250","200-315","250-315"],"paddingInner":0,"paddingOuter":0},"axis":null}}},
   {"data":{"values":[{"row":"h2"}]},"mark":{"type":"rect","fill":"#1c4f9c","yOffset":1.5},"encoding":{"y":{"field":"row","type":"nominal","scale":{"type":"band","domain":["h1","h2","h3","100-125","100-160","125-160","125-200","160-200","160-250","200-250","200-315","250-315"],"paddingInner":0,"paddingOuter":0},"axis":null}}},
   {"data":{"values":[{"row":"h3","label":"125"}]},"layer":[
    {"mark":{"type":"rect","fill":"#1c4f9c","stroke":"#ffffff","strokeWidth":1.5},"encoding":{"y":{"field":"row","type":"nominal","scale":{"type":"band","domain":["h1","h2","h3","100-125","100-160","125-160","125-200","160-200","160-250","200-250","200-315","250-315"],"paddingInner":0,"paddingOuter":0},"axis":null}}},
    {"mark":{"type":"text","fontSize":13,"color":"#ffffff"},"encoding":{"y":{"field":"row","type":"nominal","scale":{"type":"band","domain":["h1","h2","h3","100-125","100-160","125-160","125-200","160-200","160-250","200-250","200-315","250-315"],"paddingInner":0,"paddingOuter":0},"axis":null},"text":{"field":"label","type":"nominal"}}}]},
   {"data":{"name":"t6"},"transform":[{"window":[{"op":"row_number","as":"rn"}]}],"layer":[
    {"mark":{"type":"rect","stroke":"#ffffff","strokeWidth":1.5},"encoding":{"y":{"field":"luna","type":"nominal","scale":{"type":"band","domain":["h1","h2","h3","100-125","100-160","125-160","125-200","160-200","160-250","200-250","200-315","250-315"],"paddingInner":0,"paddingOuter":0},"axis":null},"fill":{"condition":{"test":"datum.rn % 2 == 0","value":"#e4e5e7"},"value":"#ffffff"}}},
    {"mark":{"type":"text","fontSize":13,"color":"#222222"},"encoding":{"y":{"field":"luna","type":"nominal","scale":{"type":"band","domain":["h1","h2","h3","100-125","100-160","125-160","125-200","160-200","160-250","200-250","200-315","250-315"],"paddingInner":0,"paddingOuter":0},"axis":null},"text":{"field":"s125","type":"nominal"}}}]}
  ]},
  {"width":39,"height":230.4,"layer":[
   {"data":{"values":[{"row":"h1"}]},"mark":{"type":"rect","fill":"#1c4f9c"},"encoding":{"y":{"field":"row","type":"nominal","scale":{"type":"band","domain":["h1","h2","h3","100-125","100-160","125-160","125-200","160-200","160-250","200-250","200-315","250-315"],"paddingInner":0,"paddingOuter":0},"axis":null}}},
   {"data":{"values":[{"row":"h2"}]},"mark":{"type":"rect","fill":"#1c4f9c","yOffset":1.5},"encoding":{"y":{"field":"row","type":"nominal","scale":{"type":"band","domain":["h1","h2","h3","100-125","100-160","125-160","125-200","160-200","160-250","200-250","200-315","250-315"],"paddingInner":0,"paddingOuter":0},"axis":null}}},
   {"data":{"values":[{"row":"h3","label":"250"}]},"layer":[
    {"mark":{"type":"rect","fill":"#1c4f9c","stroke":"#ffffff","strokeWidth":1.5},"encoding":{"y":{"field":"row","type":"nominal","scale":{"type":"band","domain":["h1","h2","h3","100-125","100-160","125-160","125-200","160-200","160-250","200-250","200-315","250-315"],"paddingInner":0,"paddingOuter":0},"axis":null}}},
    {"mark":{"type":"text","fontSize":13,"color":"#ffffff"},"encoding":{"y":{"field":"row","type":"nominal","scale":{"type":"band","domain":["h1","h2","h3","100-125","100-160","125-160","125-200","160-200","160-250","200-250","200-315","250-315"],"paddingInner":0,"paddingOuter":0},"axis":null},"text":{"field":"label","type":"nominal"}}}]},
   {"data":{"name":"t6"},"transform":[{"window":[{"op":"row_number","as":"rn"}]}],"layer":[
    {"mark":{"type":"rect","stroke":"#ffffff","strokeWidth":1.5},"encoding":{"y":{"field":"luna","type":"nominal","scale":{"type":"band","domain":["h1","h2","h3","100-125","100-160","125-160","125-200","160-200","160-250","200-250","200-315","250-315"],"paddingInner":0,"paddingOuter":0},"axis":null},"fill":{"condition":{"test":"datum.rn % 2 == 0","value":"#e4e5e7"},"value":"#ffffff"}}},
    {"mark":{"type":"text","fontSize":13,"color":"#222222"},"encoding":{"y":{"field":"luna","type":"nominal","scale":{"type":"band","domain":["h1","h2","h3","100-125","100-160","125-160","125-200","160-200","160-250","200-250","200-315","250-315"],"paddingInner":0,"paddingOuter":0},"axis":null},"text":{"field":"s250","type":"nominal"}}}]}
  ]},
  {"width":38,"height":230.4,"layer":[
   {"data":{"values":[{"row":"h1"}]},"mark":{"type":"rect","fill":"#1c4f9c"},"encoding":{"y":{"field":"row","type":"nominal","scale":{"type":"band","domain":["h1","h2","h3","100-125","100-160","125-160","125-200","160-200","160-250","200-250","200-315","250-315"],"paddingInner":0,"paddingOuter":0},"axis":null}}},
   {"data":{"values":[{"row":"h2"}]},"mark":{"type":"rect","fill":"#1c4f9c","yOffset":1.5},"encoding":{"y":{"field":"row","type":"nominal","scale":{"type":"band","domain":["h1","h2","h3","100-125","100-160","125-160","125-200","160-200","160-250","200-250","200-315","250-315"],"paddingInner":0,"paddingOuter":0},"axis":null}}},
   {"data":{"values":[{"row":"h3","label":"500"}]},"layer":[
    {"mark":{"type":"rect","fill":"#1c4f9c","stroke":"#ffffff","strokeWidth":1.5},"encoding":{"y":{"field":"row","type":"nominal","scale":{"type":"band","domain":["h1","h2","h3","100-125","100-160","125-160","125-200","160-200","160-250","200-250","200-315","250-315"],"paddingInner":0,"paddingOuter":0},"axis":null}}},
    {"mark":{"type":"text","fontSize":13,"color":"#ffffff"},"encoding":{"y":{"field":"row","type":"nominal","scale":{"type":"band","domain":["h1","h2","h3","100-125","100-160","125-160","125-200","160-200","160-250","200-250","200-315","250-315"],"paddingInner":0,"paddingOuter":0},"axis":null},"text":{"field":"label","type":"nominal"}}}]},
   {"data":{"name":"t6"},"transform":[{"window":[{"op":"row_number","as":"rn"}]}],"layer":[
    {"mark":{"type":"rect","stroke":"#ffffff","strokeWidth":1.5},"encoding":{"y":{"field":"luna","type":"nominal","scale":{"type":"band","domain":["h1","h2","h3","100-125","100-160","125-160","125-200","160-200","160-250","200-250","200-315","250-315"],"paddingInner":0,"paddingOuter":0},"axis":null},"fill":{"condition":{"test":"datum.rn % 2 == 0","value":"#e4e5e7"},"value":"#ffffff"}}},
    {"mark":{"type":"text","fontSize":13,"color":"#222222"},"encoding":{"y":{"field":"luna","type":"nominal","scale":{"type":"band","domain":["h1","h2","h3","100-125","100-160","125-160","125-200","160-200","160-250","200-250","200-315","250-315"],"paddingInner":0,"paddingOuter":0},"axis":null},"text":{"field":"s500","type":"nominal"}}}]}
  ]},
  {"width":38,"height":230.4,"layer":[
   {"data":{"values":[{"row":"h1"}]},"mark":{"type":"rect","fill":"#1c4f9c"},"encoding":{"y":{"field":"row","type":"nominal","scale":{"type":"band","domain":["h1","h2","h3","100-125","100-160","125-160","125-200","160-200","160-250","200-250","200-315","250-315"],"paddingInner":0,"paddingOuter":0},"axis":null}}},
   {"data":{"values":[{"row":"h2"}]},"mark":{"type":"rect","fill":"#1c4f9c","yOffset":1.5},"encoding":{"y":{"field":"row","type":"nominal","scale":{"type":"band","domain":["h1","h2","h3","100-125","100-160","125-160","125-200","160-200","160-250","200-250","200-315","250-315"],"paddingInner":0,"paddingOuter":0},"axis":null}}},
   {"data":{"values":[{"row":"h3","label":"1ᴋ"}]},"layer":[
    {"mark":{"type":"rect","fill":"#1c4f9c","stroke":"#ffffff","strokeWidth":1.5},"encoding":{"y":{"field":"row","type":"nominal","scale":{"type":"band","domain":["h1","h2","h3","100-125","100-160","125-160","125-200","160-200","160-250","200-250","200-315","250-315"],"paddingInner":0,"paddingOuter":0},"axis":null}}},
    {"mark":{"type":"text","fontSize":13,"color":"#ffffff"},"encoding":{"y":{"field":"row","type":"nominal","scale":{"type":"band","domain":["h1","h2","h3","100-125","100-160","125-160","125-200","160-200","160-250","200-250","200-315","250-315"],"paddingInner":0,"paddingOuter":0},"axis":null},"text":{"field":"label","type":"nominal"}}}]},
   {"data":{"name":"t6"},"transform":[{"window":[{"op":"row_number","as":"rn"}]}],"layer":[
    {"mark":{"type":"rect","stroke":"#ffffff","strokeWidth":1.5},"encoding":{"y":{"field":"luna","type":"nominal","scale":{"type":"band","domain":["h1","h2","h3","100-125","100-160","125-160","125-200","160-200","160-250","200-250","200-315","250-315"],"paddingInner":0,"paddingOuter":0},"axis":null},"fill":{"condition":{"test":"datum.rn % 2 == 0","value":"#e4e5e7"},"value":"#ffffff"}}},
    {"mark":{"type":"text","fontSize":13,"color":"#222222"},"encoding":{"y":{"field":"luna","type":"nominal","scale":{"type":"band","domain":["h1","h2","h3","100-125","100-160","125-160","125-200","160-200","160-250","200-250","200-315","250-315"],"paddingInner":0,"paddingOuter":0},"axis":null},"text":{"field":"s1k","type":"nominal"}}}]}
  ]},
  {"width":38,"height":230.4,"layer":[
   {"data":{"values":[{"row":"h1"}]},"mark":{"type":"rect","fill":"#1c4f9c"},"encoding":{"y":{"field":"row","type":"nominal","scale":{"type":"band","domain":["h1","h2","h3","100-125","100-160","125-160","125-200","160-200","160-250","200-250","200-315","250-315"],"paddingInner":0,"paddingOuter":0},"axis":null}}},
   {"data":{"values":[{"row":"h2"}]},"mark":{"type":"rect","fill":"#1c4f9c","yOffset":1.5},"encoding":{"y":{"field":"row","type":"nominal","scale":{"type":"band","domain":["h1","h2","h3","100-125","100-160","125-160","125-200","160-200","160-250","200-250","200-315","250-315"],"paddingInner":0,"paddingOuter":0},"axis":null}}},
   {"data":{"values":[{"row":"h3","label":"2ᴋ"}]},"layer":[
    {"mark":{"type":"rect","fill":"#1c4f9c","stroke":"#ffffff","strokeWidth":1.5},"encoding":{"y":{"field":"row","type":"nominal","scale":{"type":"band","domain":["h1","h2","h3","100-125","100-160","125-160","125-200","160-200","160-250","200-250","200-315","250-315"],"paddingInner":0,"paddingOuter":0},"axis":null}}},
    {"mark":{"type":"text","fontSize":13,"color":"#ffffff"},"encoding":{"y":{"field":"row","type":"nominal","scale":{"type":"band","domain":["h1","h2","h3","100-125","100-160","125-160","125-200","160-200","160-250","200-250","200-315","250-315"],"paddingInner":0,"paddingOuter":0},"axis":null},"text":{"field":"label","type":"nominal"}}}]},
   {"data":{"name":"t6"},"transform":[{"window":[{"op":"row_number","as":"rn"}]}],"layer":[
    {"mark":{"type":"rect","stroke":"#ffffff","strokeWidth":1.5},"encoding":{"y":{"field":"luna","type":"nominal","scale":{"type":"band","domain":["h1","h2","h3","100-125","100-160","125-160","125-200","160-200","160-250","200-250","200-315","250-315"],"paddingInner":0,"paddingOuter":0},"axis":null},"fill":{"condition":{"test":"datum.rn % 2 == 0","value":"#e4e5e7"},"value":"#ffffff"}}},
    {"mark":{"type":"text","fontSize":13,"color":"#222222"},"encoding":{"y":{"field":"luna","type":"nominal","scale":{"type":"band","domain":["h1","h2","h3","100-125","100-160","125-160","125-200","160-200","160-250","200-250","200-315","250-315"],"paddingInner":0,"paddingOuter":0},"axis":null},"text":{"field":"s2k","type":"nominal"}}}]}
  ]},
  {"width":42,"height":230.4,"layer":[
   {"data":{"values":[{"row":"h1"}]},"mark":{"type":"rect","fill":"#1c4f9c"},"encoding":{"y":{"field":"row","type":"nominal","scale":{"type":"band","domain":["h1","h2","h3","100-125","100-160","125-160","125-200","160-200","160-250","200-250","200-315","250-315"],"paddingInner":0,"paddingOuter":0},"axis":null}}},
   {"data":{"values":[{"row":"h2"}]},"mark":{"type":"rect","fill":"#1c4f9c","yOffset":1.5},"encoding":{"y":{"field":"row","type":"nominal","scale":{"type":"band","domain":["h1","h2","h3","100-125","100-160","125-160","125-200","160-200","160-250","200-250","200-315","250-315"],"paddingInner":0,"paddingOuter":0},"axis":null}}},
   {"data":{"values":[{"row":"h3","label":"4ᴋ"}]},"layer":[
    {"mark":{"type":"rect","fill":"#1c4f9c","stroke":"#ffffff","strokeWidth":1.5},"encoding":{"y":{"field":"row","type":"nominal","scale":{"type":"band","domain":["h1","h2","h3","100-125","100-160","125-160","125-200","160-200","160-250","200-250","200-315","250-315"],"paddingInner":0,"paddingOuter":0},"axis":null}}},
    {"mark":{"type":"text","fontSize":13,"color":"#ffffff"},"encoding":{"y":{"field":"row","type":"nominal","scale":{"type":"band","domain":["h1","h2","h3","100-125","100-160","125-160","125-200","160-200","160-250","200-250","200-315","250-315"],"paddingInner":0,"paddingOuter":0},"axis":null},"text":{"field":"label","type":"nominal"}}}]},
   {"data":{"name":"t6"},"transform":[{"window":[{"op":"row_number","as":"rn"}]}],"layer":[
    {"mark":{"type":"rect","stroke":"#ffffff","strokeWidth":1.5},"encoding":{"y":{"field":"luna","type":"nominal","scale":{"type":"band","domain":["h1","h2","h3","100-125","100-160","125-160","125-200","160-200","160-250","200-250","200-315","250-315"],"paddingInner":0,"paddingOuter":0},"axis":null},"fill":{"condition":{"test":"datum.rn % 2 == 0","value":"#e4e5e7"},"value":"#ffffff"}}},
    {"mark":{"type":"text","fontSize":13,"color":"#222222"},"encoding":{"y":{"field":"luna","type":"nominal","scale":{"type":"band","domain":["h1","h2","h3","100-125","100-160","125-160","125-200","160-200","160-250","200-250","200-315","250-315"],"paddingInner":0,"paddingOuter":0},"axis":null},"text":{"field":"s4k","type":"nominal"}}}]}
  ]},
  {"width":44,"height":230.4,"layer":[
   {"data":{"values":[{"row":"h1"}]},"mark":{"type":"rect","fill":"#1c4f9c"},"encoding":{"y":{"field":"row","type":"nominal","scale":{"type":"band","domain":["h1","h2","h3","100-125","100-160","125-160","125-200","160-200","160-250","200-250","200-315","250-315"],"paddingInner":0,"paddingOuter":0},"axis":null}}},
   {"data":{"values":[{"row":"h2","label":"Stengt spjeld"}]},"layer":[
    {"mark":{"type":"rect","fill":"#1c4f9c","yOffset":1.5},"encoding":{"y":{"field":"row","type":"nominal","scale":{"type":"band","domain":["h1","h2","h3","100-125","100-160","125-160","125-200","160-200","160-250","200-250","200-315","250-315"],"paddingInner":0,"paddingOuter":0},"axis":null}}},
    {"mark":{"type":"text","dx":-145,"dy":1,"fontSize":13,"color":"#ffffff"},"encoding":{"y":{"field":"row","type":"nominal","scale":{"type":"band","domain":["h1","h2","h3","100-125","100-160","125-160","125-200","160-200","160-250","200-250","200-315","250-315"],"paddingInner":0,"paddingOuter":0},"axis":null},"text":{"field":"label","type":"nominal"}}}]},
   {"data":{"values":[{"row":"h3","label":"8ᴋ"}]},"layer":[
    {"mark":{"type":"rect","fill":"#1c4f9c","stroke":"#ffffff","strokeWidth":1.5},"encoding":{"y":{"field":"row","type":"nominal","scale":{"type":"band","domain":["h1","h2","h3","100-125","100-160","125-160","125-200","160-200","160-250","200-250","200-315","250-315"],"paddingInner":0,"paddingOuter":0},"axis":null}}},
    {"mark":{"type":"text","fontSize":13,"color":"#ffffff"},"encoding":{"y":{"field":"row","type":"nominal","scale":{"type":"band","domain":["h1","h2","h3","100-125","100-160","125-160","125-200","160-200","160-250","200-250","200-315","250-315"],"paddingInner":0,"paddingOuter":0},"axis":null},"text":{"field":"label","type":"nominal"}}}]},
   {"data":{"name":"t6"},"transform":[{"window":[{"op":"row_number","as":"rn"}]}],"layer":[
    {"mark":{"type":"rect","stroke":"#ffffff","strokeWidth":1.5},"encoding":{"y":{"field":"luna","type":"nominal","scale":{"type":"band","domain":["h1","h2","h3","100-125","100-160","125-160","125-200","160-200","160-250","200-250","200-315","250-315"],"paddingInner":0,"paddingOuter":0},"axis":null},"fill":{"condition":{"test":"datum.rn % 2 == 0","value":"#e4e5e7"},"value":"#ffffff"}}},
    {"mark":{"type":"text","fontSize":13,"color":"#222222"},"encoding":{"y":{"field":"luna","type":"nominal","scale":{"type":"band","domain":["h1","h2","h3","100-125","100-160","125-160","125-200","160-200","160-250","200-250","200-315","250-315"],"paddingInner":0,"paddingOuter":0},"axis":null},"text":{"field":"s8k","type":"nominal"}}}]}
  ]},
  {"width":32,"height":230.4,"layer":[
   {"data":{"values":[{"row":"h1"}]},"mark":{"type":"rect","fill":"#1c4f9c"},"encoding":{"y":{"field":"row","type":"nominal","scale":{"type":"band","domain":["h1","h2","h3","100-125","100-160","125-160","125-200","160-200","160-250","200-250","200-315","250-315"],"paddingInner":0,"paddingOuter":0},"axis":null}}},
   {"data":{"values":[{"row":"h2"}]},"mark":{"type":"rect","fill":"#1c4f9c","yOffset":1.5,"xOffset":2.5},"encoding":{"y":{"field":"row","type":"nominal","scale":{"type":"band","domain":["h1","h2","h3","100-125","100-160","125-160","125-200","160-200","160-250","200-250","200-315","250-315"],"paddingInner":0,"paddingOuter":0},"axis":null}}},
   {"data":{"values":[{"row":"h3","label":"63"}]},"layer":[
    {"mark":{"type":"rect","fill":"#1c4f9c","stroke":"#ffffff","strokeWidth":1.5},"encoding":{"y":{"field":"row","type":"nominal","scale":{"type":"band","domain":["h1","h2","h3","100-125","100-160","125-160","125-200","160-200","160-250","200-250","200-315","250-315"],"paddingInner":0,"paddingOuter":0},"axis":null}}},
    {"mark":{"type":"text","fontSize":13,"color":"#ffffff"},"encoding":{"y":{"field":"row","type":"nominal","scale":{"type":"band","domain":["h1","h2","h3","100-125","100-160","125-160","125-200","160-200","160-250","200-250","200-315","250-315"],"paddingInner":0,"paddingOuter":0},"axis":null},"text":{"field":"label","type":"nominal"}}}]},
   {"data":{"name":"t6"},"transform":[{"window":[{"op":"row_number","as":"rn"}]}],"layer":[
    {"mark":{"type":"rect","stroke":"#ffffff","strokeWidth":1.5},"encoding":{"y":{"field":"luna","type":"nominal","scale":{"type":"band","domain":["h1","h2","h3","100-125","100-160","125-160","125-200","160-200","160-250","200-250","200-315","250-315"],"paddingInner":0,"paddingOuter":0},"axis":null},"fill":{"condition":{"test":"datum.rn % 2 == 0","value":"#e4e5e7"},"value":"#ffffff"}}},
    {"mark":{"type":"text","fontSize":13,"color":"#222222"},"encoding":{"y":{"field":"luna","type":"nominal","scale":{"type":"band","domain":["h1","h2","h3","100-125","100-160","125-160","125-200","160-200","160-250","200-250","200-315","250-315"],"paddingInner":0,"paddingOuter":0},"axis":null},"text":{"field":"a63","type":"nominal"}}}]}
  ]},
  {"width":42,"height":230.4,"layer":[
   {"data":{"values":[{"row":"h1"}]},"mark":{"type":"rect","fill":"#1c4f9c"},"encoding":{"y":{"field":"row","type":"nominal","scale":{"type":"band","domain":["h1","h2","h3","100-125","100-160","125-160","125-200","160-200","160-250","200-250","200-315","250-315"],"paddingInner":0,"paddingOuter":0},"axis":null}}},
   {"data":{"values":[{"row":"h2"}]},"mark":{"type":"rect","fill":"#1c4f9c","yOffset":1.5},"encoding":{"y":{"field":"row","type":"nominal","scale":{"type":"band","domain":["h1","h2","h3","100-125","100-160","125-160","125-200","160-200","160-250","200-250","200-315","250-315"],"paddingInner":0,"paddingOuter":0},"axis":null}}},
   {"data":{"values":[{"row":"h3","label":"125"}]},"layer":[
    {"mark":{"type":"rect","fill":"#1c4f9c","stroke":"#ffffff","strokeWidth":1.5},"encoding":{"y":{"field":"row","type":"nominal","scale":{"type":"band","domain":["h1","h2","h3","100-125","100-160","125-160","125-200","160-200","160-250","200-250","200-315","250-315"],"paddingInner":0,"paddingOuter":0},"axis":null}}},
    {"mark":{"type":"text","fontSize":13,"color":"#ffffff"},"encoding":{"y":{"field":"row","type":"nominal","scale":{"type":"band","domain":["h1","h2","h3","100-125","100-160","125-160","125-200","160-200","160-250","200-250","200-315","250-315"],"paddingInner":0,"paddingOuter":0},"axis":null},"text":{"field":"label","type":"nominal"}}}]},
   {"data":{"name":"t6"},"transform":[{"window":[{"op":"row_number","as":"rn"}]}],"layer":[
    {"mark":{"type":"rect","stroke":"#ffffff","strokeWidth":1.5},"encoding":{"y":{"field":"luna","type":"nominal","scale":{"type":"band","domain":["h1","h2","h3","100-125","100-160","125-160","125-200","160-200","160-250","200-250","200-315","250-315"],"paddingInner":0,"paddingOuter":0},"axis":null},"fill":{"condition":{"test":"datum.rn % 2 == 0","value":"#e4e5e7"},"value":"#ffffff"}}},
    {"mark":{"type":"text","fontSize":13,"color":"#222222"},"encoding":{"y":{"field":"luna","type":"nominal","scale":{"type":"band","domain":["h1","h2","h3","100-125","100-160","125-160","125-200","160-200","160-250","200-250","200-315","250-315"],"paddingInner":0,"paddingOuter":0},"axis":null},"text":{"field":"a125","type":"nominal"}}}]}
  ]},
  {"width":38,"height":230.4,"layer":[
   {"data":{"values":[{"row":"h1"}]},"mark":{"type":"rect","fill":"#1c4f9c"},"encoding":{"y":{"field":"row","type":"nominal","scale":{"type":"band","domain":["h1","h2","h3","100-125","100-160","125-160","125-200","160-200","160-250","200-250","200-315","250-315"],"paddingInner":0,"paddingOuter":0},"axis":null}}},
   {"data":{"values":[{"row":"h2"}]},"mark":{"type":"rect","fill":"#1c4f9c","yOffset":1.5},"encoding":{"y":{"field":"row","type":"nominal","scale":{"type":"band","domain":["h1","h2","h3","100-125","100-160","125-160","125-200","160-200","160-250","200-250","200-315","250-315"],"paddingInner":0,"paddingOuter":0},"axis":null}}},
   {"data":{"values":[{"row":"h3","label":"250"}]},"layer":[
    {"mark":{"type":"rect","fill":"#1c4f9c","stroke":"#ffffff","strokeWidth":1.5},"encoding":{"y":{"field":"row","type":"nominal","scale":{"type":"band","domain":["h1","h2","h3","100-125","100-160","125-160","125-200","160-200","160-250","200-250","200-315","250-315"],"paddingInner":0,"paddingOuter":0},"axis":null}}},
    {"mark":{"type":"text","fontSize":13,"color":"#ffffff"},"encoding":{"y":{"field":"row","type":"nominal","scale":{"type":"band","domain":["h1","h2","h3","100-125","100-160","125-160","125-200","160-200","160-250","200-250","200-315","250-315"],"paddingInner":0,"paddingOuter":0},"axis":null},"text":{"field":"label","type":"nominal"}}}]},
   {"data":{"name":"t6"},"transform":[{"window":[{"op":"row_number","as":"rn"}]}],"layer":[
    {"mark":{"type":"rect","stroke":"#ffffff","strokeWidth":1.5},"encoding":{"y":{"field":"luna","type":"nominal","scale":{"type":"band","domain":["h1","h2","h3","100-125","100-160","125-160","125-200","160-200","160-250","200-250","200-315","250-315"],"paddingInner":0,"paddingOuter":0},"axis":null},"fill":{"condition":{"test":"datum.rn % 2 == 0","value":"#e4e5e7"},"value":"#ffffff"}}},
    {"mark":{"type":"text","fontSize":13,"color":"#222222"},"encoding":{"y":{"field":"luna","type":"nominal","scale":{"type":"band","domain":["h1","h2","h3","100-125","100-160","125-160","125-200","160-200","160-250","200-250","200-315","250-315"],"paddingInner":0,"paddingOuter":0},"axis":null},"text":{"field":"a250","type":"nominal"}}}]}
  ]},
  {"width":42,"height":230.4,"layer":[
   {"data":{"values":[{"row":"h1"}]},"mark":{"type":"rect","fill":"#1c4f9c"},"encoding":{"y":{"field":"row","type":"nominal","scale":{"type":"band","domain":["h1","h2","h3","100-125","100-160","125-160","125-200","160-200","160-250","200-250","200-315","250-315"],"paddingInner":0,"paddingOuter":0},"axis":null}}},
   {"data":{"values":[{"row":"h2"}]},"mark":{"type":"rect","fill":"#1c4f9c","yOffset":1.5},"encoding":{"y":{"field":"row","type":"nominal","scale":{"type":"band","domain":["h1","h2","h3","100-125","100-160","125-160","125-200","160-200","160-250","200-250","200-315","250-315"],"paddingInner":0,"paddingOuter":0},"axis":null}}},
   {"data":{"values":[{"row":"h3","label":"500"}]},"layer":[
    {"mark":{"type":"rect","fill":"#1c4f9c","stroke":"#ffffff","strokeWidth":1.5},"encoding":{"y":{"field":"row","type":"nominal","scale":{"type":"band","domain":["h1","h2","h3","100-125","100-160","125-160","125-200","160-200","160-250","200-250","200-315","250-315"],"paddingInner":0,"paddingOuter":0},"axis":null}}},
    {"mark":{"type":"text","fontSize":13,"color":"#ffffff"},"encoding":{"y":{"field":"row","type":"nominal","scale":{"type":"band","domain":["h1","h2","h3","100-125","100-160","125-160","125-200","160-200","160-250","200-250","200-315","250-315"],"paddingInner":0,"paddingOuter":0},"axis":null},"text":{"field":"label","type":"nominal"}}}]},
   {"data":{"name":"t6"},"transform":[{"window":[{"op":"row_number","as":"rn"}]}],"layer":[
    {"mark":{"type":"rect","stroke":"#ffffff","strokeWidth":1.5},"encoding":{"y":{"field":"luna","type":"nominal","scale":{"type":"band","domain":["h1","h2","h3","100-125","100-160","125-160","125-200","160-200","160-250","200-250","200-315","250-315"],"paddingInner":0,"paddingOuter":0},"axis":null},"fill":{"condition":{"test":"datum.rn % 2 == 0","value":"#e4e5e7"},"value":"#ffffff"}}},
    {"mark":{"type":"text","fontSize":13,"color":"#222222"},"encoding":{"y":{"field":"luna","type":"nominal","scale":{"type":"band","domain":["h1","h2","h3","100-125","100-160","125-160","125-200","160-200","160-250","200-250","200-315","250-315"],"paddingInner":0,"paddingOuter":0},"axis":null},"text":{"field":"a500","type":"nominal"}}}]}
  ]},
  {"width":39,"height":230.4,"layer":[
   {"data":{"values":[{"row":"h1"}]},"mark":{"type":"rect","fill":"#1c4f9c"},"encoding":{"y":{"field":"row","type":"nominal","scale":{"type":"band","domain":["h1","h2","h3","100-125","100-160","125-160","125-200","160-200","160-250","200-250","200-315","250-315"],"paddingInner":0,"paddingOuter":0},"axis":null}}},
   {"data":{"values":[{"row":"h2"}]},"mark":{"type":"rect","fill":"#1c4f9c","yOffset":1.5},"encoding":{"y":{"field":"row","type":"nominal","scale":{"type":"band","domain":["h1","h2","h3","100-125","100-160","125-160","125-200","160-200","160-250","200-250","200-315","250-315"],"paddingInner":0,"paddingOuter":0},"axis":null}}},
   {"data":{"values":[{"row":"h3","label":"1ᴋ"}]},"layer":[
    {"mark":{"type":"rect","fill":"#1c4f9c","stroke":"#ffffff","strokeWidth":1.5},"encoding":{"y":{"field":"row","type":"nominal","scale":{"type":"band","domain":["h1","h2","h3","100-125","100-160","125-160","125-200","160-200","160-250","200-250","200-315","250-315"],"paddingInner":0,"paddingOuter":0},"axis":null}}},
    {"mark":{"type":"text","fontSize":13,"color":"#ffffff"},"encoding":{"y":{"field":"row","type":"nominal","scale":{"type":"band","domain":["h1","h2","h3","100-125","100-160","125-160","125-200","160-200","160-250","200-250","200-315","250-315"],"paddingInner":0,"paddingOuter":0},"axis":null},"text":{"field":"label","type":"nominal"}}}]},
   {"data":{"name":"t6"},"transform":[{"window":[{"op":"row_number","as":"rn"}]}],"layer":[
    {"mark":{"type":"rect","stroke":"#ffffff","strokeWidth":1.5},"encoding":{"y":{"field":"luna","type":"nominal","scale":{"type":"band","domain":["h1","h2","h3","100-125","100-160","125-160","125-200","160-200","160-250","200-250","200-315","250-315"],"paddingInner":0,"paddingOuter":0},"axis":null},"fill":{"condition":{"test":"datum.rn % 2 == 0","value":"#e4e5e7"},"value":"#ffffff"}}},
    {"mark":{"type":"text","fontSize":13,"color":"#222222"},"encoding":{"y":{"field":"luna","type":"nominal","scale":{"type":"band","domain":["h1","h2","h3","100-125","100-160","125-160","125-200","160-200","160-250","200-250","200-315","250-315"],"paddingInner":0,"paddingOuter":0},"axis":null},"text":{"field":"a1k","type":"nominal"}}}]}
  ]},
  {"width":38,"height":230.4,"layer":[
   {"data":{"values":[{"row":"h1"}]},"mark":{"type":"rect","fill":"#1c4f9c"},"encoding":{"y":{"field":"row","type":"nominal","scale":{"type":"band","domain":["h1","h2","h3","100-125","100-160","125-160","125-200","160-200","160-250","200-250","200-315","250-315"],"paddingInner":0,"paddingOuter":0},"axis":null}}},
   {"data":{"values":[{"row":"h2"}]},"mark":{"type":"rect","fill":"#1c4f9c","yOffset":1.5},"encoding":{"y":{"field":"row","type":"nominal","scale":{"type":"band","domain":["h1","h2","h3","100-125","100-160","125-160","125-200","160-200","160-250","200-250","200-315","250-315"],"paddingInner":0,"paddingOuter":0},"axis":null}}},
   {"data":{"values":[{"row":"h3","label":"2ᴋ"}]},"layer":[
    {"mark":{"type":"rect","fill":"#1c4f9c","stroke":"#ffffff","strokeWidth":1.5},"encoding":{"y":{"field":"row","type":"nominal","scale":{"type":"band","domain":["h1","h2","h3","100-125","100-160","125-160","125-200","160-200","160-250","200-250","200-315","250-315"],"paddingInner":0,"paddingOuter":0},"axis":null}}},
    {"mark":{"type":"text","fontSize":13,"color":"#ffffff"},"encoding":{"y":{"field":"row","type":"nominal","scale":{"type":"band","domain":["h1","h2","h3","100-125","100-160","125-160","125-200","160-200","160-250","200-250","200-315","250-315"],"paddingInner":0,"paddingOuter":0},"axis":null},"text":{"field":"label","type":"nominal"}}}]},
   {"data":{"name":"t6"},"transform":[{"window":[{"op":"row_number","as":"rn"}]}],"layer":[
    {"mark":{"type":"rect","stroke":"#ffffff","strokeWidth":1.5},"encoding":{"y":{"field":"luna","type":"nominal","scale":{"type":"band","domain":["h1","h2","h3","100-125","100-160","125-160","125-200","160-200","160-250","200-250","200-315","250-315"],"paddingInner":0,"paddingOuter":0},"axis":null},"fill":{"condition":{"test":"datum.rn % 2 == 0","value":"#e4e5e7"},"value":"#ffffff"}}},
    {"mark":{"type":"text","fontSize":13,"color":"#222222"},"encoding":{"y":{"field":"luna","type":"nominal","scale":{"type":"band","domain":["h1","h2","h3","100-125","100-160","125-160","125-200","160-200","160-250","200-250","200-315","250-315"],"paddingInner":0,"paddingOuter":0},"axis":null},"text":{"field":"a2k","type":"nominal"}}}]}
  ]},
  {"width":41,"height":230.4,"layer":[
   {"data":{"values":[{"row":"h1"}]},"mark":{"type":"rect","fill":"#1c4f9c"},"encoding":{"y":{"field":"row","type":"nominal","scale":{"type":"band","domain":["h1","h2","h3","100-125","100-160","125-160","125-200","160-200","160-250","200-250","200-315","250-315"],"paddingInner":0,"paddingOuter":0},"axis":null}}},
   {"data":{"values":[{"row":"h2"}]},"mark":{"type":"rect","fill":"#1c4f9c","yOffset":1.5},"encoding":{"y":{"field":"row","type":"nominal","scale":{"type":"band","domain":["h1","h2","h3","100-125","100-160","125-160","125-200","160-200","160-250","200-250","200-315","250-315"],"paddingInner":0,"paddingOuter":0},"axis":null}}},
   {"data":{"values":[{"row":"h3","label":"4ᴋ"}]},"layer":[
    {"mark":{"type":"rect","fill":"#1c4f9c","stroke":"#ffffff","strokeWidth":1.5},"encoding":{"y":{"field":"row","type":"nominal","scale":{"type":"band","domain":["h1","h2","h3","100-125","100-160","125-160","125-200","160-200","160-250","200-250","200-315","250-315"],"paddingInner":0,"paddingOuter":0},"axis":null}}},
    {"mark":{"type":"text","fontSize":13,"color":"#ffffff"},"encoding":{"y":{"field":"row","type":"nominal","scale":{"type":"band","domain":["h1","h2","h3","100-125","100-160","125-160","125-200","160-200","160-250","200-250","200-315","250-315"],"paddingInner":0,"paddingOuter":0},"axis":null},"text":{"field":"label","type":"nominal"}}}]},
   {"data":{"name":"t6"},"transform":[{"window":[{"op":"row_number","as":"rn"}]}],"layer":[
    {"mark":{"type":"rect","stroke":"#ffffff","strokeWidth":1.5},"encoding":{"y":{"field":"luna","type":"nominal","scale":{"type":"band","domain":["h1","h2","h3","100-125","100-160","125-160","125-200","160-200","160-250","200-250","200-315","250-315"],"paddingInner":0,"paddingOuter":0},"axis":null},"fill":{"condition":{"test":"datum.rn % 2 == 0","value":"#e4e5e7"},"value":"#ffffff"}}},
    {"mark":{"type":"text","fontSize":13,"color":"#222222"},"encoding":{"y":{"field":"luna","type":"nominal","scale":{"type":"band","domain":["h1","h2","h3","100-125","100-160","125-160","125-200","160-200","160-250","200-250","200-315","250-315"],"paddingInner":0,"paddingOuter":0},"axis":null},"text":{"field":"a4k","type":"nominal"}}}]}
  ]},
  {"width":44,"height":230.4,"layer":[
   {"data":{"values":[{"row":"h1","label":"KO [dB]"}]},"layer":[
    {"mark":{"type":"rect","fill":"#1c4f9c"},"encoding":{"y":{"field":"row","type":"nominal","scale":{"type":"band","domain":["h1","h2","h3","100-125","100-160","125-160","125-200","160-200","160-250","200-250","200-315","250-315"],"paddingInner":0,"paddingOuter":0},"axis":null}}},
    {"mark":{"type":"text","dx":-296,"fontSize":13,"color":"#ffffff"},"encoding":{"y":{"field":"row","type":"nominal","scale":{"type":"band","domain":["h1","h2","h3","100-125","100-160","125-160","125-200","160-200","160-250","200-250","200-315","250-315"],"paddingInner":0,"paddingOuter":0},"axis":null},"text":{"field":"label","type":"nominal"}}}]},
   {"data":{"values":[{"row":"h2","label":"Åpent spjeld"}]},"layer":[
    {"mark":{"type":"rect","fill":"#1c4f9c","yOffset":1.5},"encoding":{"y":{"field":"row","type":"nominal","scale":{"type":"band","domain":["h1","h2","h3","100-125","100-160","125-160","125-200","160-200","160-250","200-250","200-315","250-315"],"paddingInner":0,"paddingOuter":0},"axis":null}}},
    {"mark":{"type":"text","dx":-151,"dy":1,"fontSize":13,"color":"#ffffff"},"encoding":{"y":{"field":"row","type":"nominal","scale":{"type":"band","domain":["h1","h2","h3","100-125","100-160","125-160","125-200","160-200","160-250","200-250","200-315","250-315"],"paddingInner":0,"paddingOuter":0},"axis":null},"text":{"field":"label","type":"nominal"}}}]},
   {"data":{"values":[{"row":"h3","label":"8ᴋ"}]},"layer":[
    {"mark":{"type":"rect","fill":"#1c4f9c","stroke":"#ffffff","strokeWidth":1.5},"encoding":{"y":{"field":"row","type":"nominal","scale":{"type":"band","domain":["h1","h2","h3","100-125","100-160","125-160","125-200","160-200","160-250","200-250","200-315","250-315"],"paddingInner":0,"paddingOuter":0},"axis":null}}},
    {"mark":{"type":"text","fontSize":13,"color":"#ffffff"},"encoding":{"y":{"field":"row","type":"nominal","scale":{"type":"band","domain":["h1","h2","h3","100-125","100-160","125-160","125-200","160-200","160-250","200-250","200-315","250-315"],"paddingInner":0,"paddingOuter":0},"axis":null},"text":{"field":"label","type":"nominal"}}}]},
   {"data":{"name":"t6"},"transform":[{"window":[{"op":"row_number","as":"rn"}]}],"layer":[
    {"mark":{"type":"rect","stroke":"#ffffff","strokeWidth":1.5},"encoding":{"y":{"field":"luna","type":"nominal","scale":{"type":"band","domain":["h1","h2","h3","100-125","100-160","125-160","125-200","160-200","160-250","200-250","200-315","250-315"],"paddingInner":0,"paddingOuter":0},"axis":null},"fill":{"condition":{"test":"datum.rn % 2 == 0","value":"#e4e5e7"},"value":"#ffffff"}}},
    {"mark":{"type":"text","fontSize":13,"color":"#222222"},"encoding":{"y":{"field":"luna","type":"nominal","scale":{"type":"band","domain":["h1","h2","h3","100-125","100-160","125-160","125-200","160-200","160-250","200-250","200-315","250-315"],"paddingInner":0,"paddingOuter":0},"axis":null},"text":{"field":"a8k","type":"nominal"}}}]}
  ]}
 ],"spacing":0,"bounds":"flush"}
],"spacing":0,"bounds":"flush"},
{"width":960,"height":29.3,"data":{"values":[{}]},"mark":{"type":"text","text":"Tabell 6","align":"left","dx":-434,"dy":-2,"fontSize":13,"fontStyle":"italic","color":"#111111"}},
{"width":10,"height":180,"data":{"values":[{}]},"mark":{"type":"text","text":""}},
{"width":960,"height":20,"data":{"values":[{}]},"mark":{"type":"text","text":"6","fontSize":13,"dx":-25,"dy":0,"color":"#111111"}}
]
}
